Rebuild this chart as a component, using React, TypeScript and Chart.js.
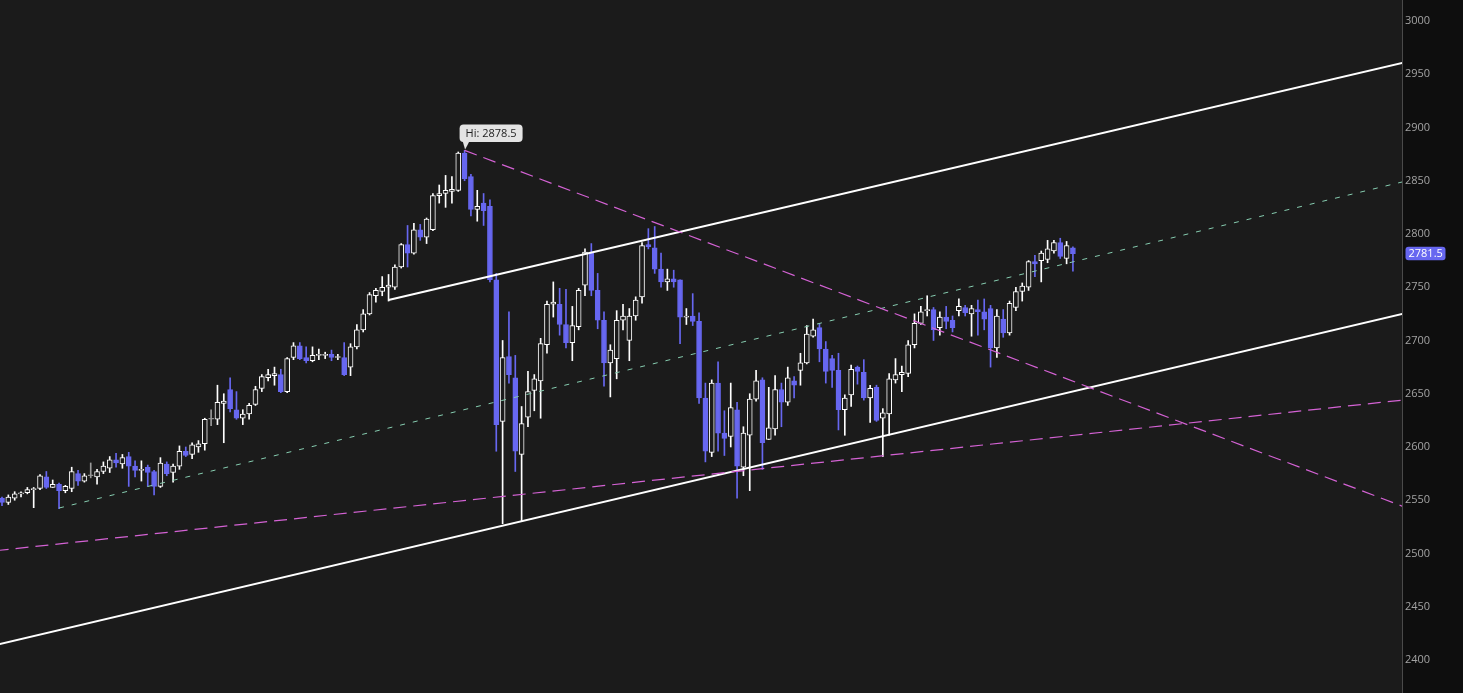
import React, { useEffect, useRef } from 'react';
import { Chart, registerables } from 'chart.js';

Chart.register(...registerables);

// ---- Data ----
const opens = [
  2552, 2548, 2552, 2556, 2557, 2560, 2561, 2572, 2562, 2565,
  2559, 2561, 2575, 2568, 2573, 2572, 2577, 2580, 2588, 2584,
  2591, 2582, 2578, 2581, 2577, 2563, 2584, 2576, 2582, 2596,
  2593, 2600, 2603, 2626, 2626, 2641, 2654, 2635, 2627, 2631,
  2640, 2655, 2665, 2667, 2668, 2652, 2684, 2695, 2684, 2681,
  2686, 2686, 2687, 2684, 2684, 2675, 2694, 2710, 2725, 2742,
  2746, 2750, 2750, 2769, 2790, 2782, 2804, 2797, 2804, 2836,
  2838, 2840, 2841, 2876, 2854, 2823, 2829, 2826, 2757, 2624,
  2685, 2665, 2593, 2628, 2653, 2662, 2696, 2734, 2734, 2715,
  2698, 2713, 2752, 2783, 2747, 2719, 2679, 2683, 2719, 2700,
  2723, 2741, 2790, 2787, 2767, 2755, 2758, 2757, 2722, 2723,
  2718, 2646, 2595, 2660, 2613, 2610, 2635, 2581, 2611, 2645,
  2663, 2607, 2617, 2654, 2642, 2662, 2672, 2679, 2704, 2712,
  2692, 2683, 2672, 2635, 2649, 2675, 2670, 2646, 2656, 2627,
  2631, 2663, 2668, 2669, 2696, 2716, 2728, 2729, 2712, 2722,
  2719, 2728, 2731, 2725, 2729, 2727, 2730, 2693, 2720, 2707,
  2731, 2746, 2750, 2774, 2775, 2776, 2784, 2792, 2777, 2787,
];
const highs = [
  2553, 2555, 2558, 2558, 2562, 2562, 2574, 2577, 2569, 2566,
  2564, 2581, 2578, 2575, 2585, 2579, 2586, 2591, 2594, 2593,
  2595, 2587, 2587, 2583, 2578, 2590, 2586, 2584, 2601, 2600,
  2604, 2606, 2627, 2635, 2658, 2650, 2665, 2652, 2635, 2641,
  2657, 2668, 2673, 2675, 2673, 2684, 2698, 2698, 2694, 2694,
  2692, 2689, 2691, 2687, 2698, 2697, 2715, 2729, 2745, 2749,
  2760, 2762, 2771, 2791, 2808, 2810, 2809, 2815, 2838, 2846,
  2855, 2854, 2877, 2878.5, 2856, 2841, 2838, 2832, 2763, 2700,
  2727, 2686, 2638, 2671, 2668, 2702, 2737, 2755, 2749, 2748,
  2732, 2749, 2786, 2791, 2763, 2727, 2696, 2728, 2734, 2730,
  2741, 2792, 2805, 2807, 2782, 2767, 2766, 2757, 2730, 2744,
  2726, 2660, 2663, 2680, 2634, 2660, 2642, 2619, 2650, 2672,
  2665, 2656, 2667, 2660, 2675, 2666, 2688, 2714, 2720, 2716,
  2699, 2686, 2688, 2649, 2677, 2676, 2682, 2658, 2658, 2636,
  2669, 2683, 2676, 2700, 2725, 2732, 2742, 2731, 2727, 2732,
  2723, 2739, 2733, 2733, 2738, 2739, 2733, 2729, 2729, 2737,
  2750, 2754, 2775, 2780, 2784, 2794, 2794, 2796, 2793, 2788,
];
const lows = [
  2545, 2546, 2550, 2553, 2556, 2543, 2560, 2561, 2562, 2542,
  2557, 2558, 2564, 2567, 2571, 2565, 2575, 2576, 2581, 2580,
  2563, 2572, 2568, 2563, 2555, 2562, 2573, 2567, 2579, 2591,
  2589, 2595, 2597, 2620, 2621, 2604, 2633, 2626, 2621, 2626,
  2639, 2652, 2662, 2658, 2651, 2651, 2682, 2682, 2679, 2680,
  2682, 2683, 2681, 2682, 2667, 2667, 2692, 2708, 2724, 2736,
  2742, 2737, 2748, 2768, 2769, 2781, 2794, 2791, 2803, 2829,
  2825, 2829, 2840, 2850, 2817, 2812, 2808, 2755, 2596, 2528,
  2660, 2577, 2530, 2619, 2634, 2627, 2688, 2722, 2705, 2693,
  2681, 2710, 2742, 2742, 2711, 2657, 2647, 2664, 2710, 2681,
  2719, 2735, 2786, 2763, 2750, 2747, 2750, 2697, 2715, 2714,
  2641, 2586, 2591, 2596, 2592, 2600, 2552, 2573, 2559, 2643,
  2579, 2607, 2611, 2619, 2639, 2646, 2658, 2678, 2703, 2680,
  2660, 2656, 2616, 2611, 2638, 2659, 2644, 2623, 2624, 2591,
  2611, 2660, 2652, 2666, 2693, 2715, 2723, 2700, 2705, 2711,
  2708, 2723, 2723, 2704, 2705, 2710, 2675, 2684, 2703, 2705,
  2728, 2737, 2747, 2760, 2755, 2773, 2782, 2777, 2772, 2765,
];
const closes = [
  2548, 2553, 2556, 2557, 2560, 2561, 2573, 2562, 2565, 2559,
  2563, 2577, 2568, 2573, 2573.5, 2577, 2582, 2588, 2585, 2590,
  2582, 2578, 2579, 2576, 2563, 2585, 2575, 2582, 2596, 2592,
  2602, 2603, 2626, 2626.5, 2642, 2643, 2636, 2627, 2631, 2639,
  2654, 2666, 2668, 2669, 2652, 2683, 2695, 2683, 2681, 2686,
  2687, 2687, 2684, 2685, 2668, 2694, 2710, 2725, 2743, 2747,
  2750, 2752, 2769, 2790, 2782, 2804, 2797, 2814, 2836, 2838,
  2841, 2842, 2876, 2852, 2823, 2826, 2822, 2757, 2621, 2684,
  2668, 2596, 2622, 2652, 2664, 2697, 2734, 2736, 2715, 2698,
  2714, 2747, 2783, 2747, 2719, 2679, 2691, 2719, 2723, 2723,
  2738, 2789, 2788, 2767, 2755, 2758, 2755, 2722, 2723, 2718,
  2646, 2596, 2660, 2613, 2608, 2637, 2582, 2613, 2645, 2662,
  2604, 2618, 2654, 2642, 2665, 2658, 2679, 2706, 2710, 2692,
  2671, 2672, 2635, 2646, 2673, 2671, 2646, 2655, 2625, 2632,
  2664, 2668, 2670, 2696, 2716, 2727, 2729, 2710, 2722, 2718,
  2712, 2732, 2726, 2730, 2727, 2720, 2693, 2723, 2707, 2735,
  2746, 2751, 2774, 2772, 2782, 2786, 2792, 2779, 2789, 2781.5,
];

const yTicks = [2400, 2450, 2500, 2550, 2600, 2650, 2700, 2750, 2800, 2850, 2900, 2950, 3000];

const hiIndex = 73;
const hiValue = 2878.5;

// trendlines: [candle index, price]
const upperChannel = [{ x: 61, y: 2738 }, { x: 221, y: 2960.7 }];
const lowerChannel = [{ x: -1, y: 2414 }, { x: 221, y: 2725 }];
const descTrend = [{ x: 73, y: 2878.5 }, { x: 221, y: 2544.4 }];
const supportTrend = [{ x: -1, y: 2502.6 }, { x: 221, y: 2644 }];
const midTrend = [{ x: 9, y: 2542.7 }, { x: 221, y: 2848.9 }];

// ---- Styles ----
const PLOT_BG = '#1b1b1b';
const AXIS_BG = '#0e0e0e';
const UP = '#ffffff';
const DOWN = '#6767f0';
const DOJI = '#9a9a9a';
const MAGENTA = '#d462d4';
const GREEN = '#86cdb0';

const candleKind = (i: number) =>
  closes[i] > opens[i] + 0.5 ? 'up' : closes[i] < opens[i] - 0.5 ? 'down' : 'doji';

export default function App() {
  const ref = useRef<HTMLCanvasElement | null>(null);

  useEffect(() => {
    document.body.style.margin = '0';
    document.body.style.overflow = 'hidden';
    document.body.style.background = AXIS_BG;
    const canvas = ref.current;
    if (!canvas) return;

    const bodyData = opens.map((o, i) => ({ x: i, y: [o, closes[i]] }));
    const wickData = lows.map((l, i) => ({ x: i, y: [l, highs[i]] }));
    const kinds = opens.map((_, i) => candleKind(i));
    const edge = kinds.map((k) => (k === 'up' ? UP : k === 'down' ? DOWN : DOJI));
    const fill = kinds.map((k) => (k === 'up' ? PLOT_BG : k === 'down' ? DOWN : DOJI));

    const bgPlugin = {
      id: 'bgPlugin',
      beforeDraw(chart: any) {
        const { ctx, chartArea, width, height } = chart;
        ctx.save();
        ctx.fillStyle = AXIS_BG;
        ctx.fillRect(0, 0, width, height);
        ctx.fillStyle = PLOT_BG;
        ctx.fillRect(chartArea.left, chartArea.top, chartArea.right - chartArea.left, chartArea.bottom - chartArea.top);
        ctx.restore();
      },
    };

    const roundRect = (ctx: CanvasRenderingContext2D, x: number, y: number, w: number, h: number, r: number) => {
      ctx.beginPath();
      ctx.moveTo(x + r, y);
      ctx.lineTo(x + w - r, y);
      ctx.arcTo(x + w, y, x + w, y + r, r);
      ctx.lineTo(x + w, y + h - r);
      ctx.arcTo(x + w, y + h, x + w - r, y + h, r);
      ctx.lineTo(x + r, y + h);
      ctx.arcTo(x, y + h, x, y + h - r, r);
      ctx.lineTo(x, y + r);
      ctx.arcTo(x, y, x + r, y, r);
      ctx.closePath();
    };

    const labelPlugin = {
      id: 'labelPlugin',
      afterDraw(chart: any) {
        const { ctx } = chart;
        const xs = chart.scales.x;
        const ys = chart.scales.y;
        ctx.save();
        // Hi label
        const hx = xs.getPixelForValue(hiIndex);
        const hy = ys.getPixelForValue(hiValue);
        const w = 63;
        const h = 17.5;
        const lx = hx - 5;
        const ly = hy - 26;
        ctx.fillStyle = '#e4e4e4';
        roundRect(ctx, lx, ly, w, h, 4);
        ctx.fill();
        ctx.beginPath();
        ctx.moveTo(lx + 3, ly + h - 1);
        ctx.lineTo(lx + 10, ly + h - 1);
        ctx.lineTo(hx + 0.5, hy - 1);
        ctx.closePath();
        ctx.fill();
        ctx.fillStyle = '#1e1e1e';
        ctx.font = '11px "Open Sans", "DejaVu Sans", sans-serif';
        ctx.textAlign = 'center';
        ctx.textBaseline = 'middle';
        ctx.fillText('Hi: ' + hiValue.toFixed(1), lx + w / 2, ly + h / 2 + 0.5);

        // last price tag
        const last = closes[closes.length - 1];
        const py = ys.getPixelForValue(last);
        const tx = chart.chartArea.right + 3.5;
        ctx.fillStyle = DOWN;
        roundRect(ctx, tx, py - 7, 40, 13.5, 3);
        ctx.fill();
        ctx.fillStyle = '#ffffff';
        ctx.textAlign = 'left';
        ctx.fillText(last.toFixed(1), tx + 3, py);
        ctx.restore();
      },
    };

    const lineDs = (data: any[], color: string, width: number, dash: number[]) => ({
      type: 'line' as const,
      data,
      borderColor: color,
      borderWidth: width,
      borderDash: dash,
      pointRadius: 0,
      pointHoverRadius: 0,
      fill: false,
      tension: 0,
      order: 0,
    });

    const chart = new Chart(canvas, {
      type: 'bar',
      data: {
        datasets: [
          {
            type: 'bar',
            data: wickData as any,
            backgroundColor: edge,
            borderWidth: 0,
            barThickness: 1,
            grouped: false,
            order: 3,
          },
          {
            type: 'bar',
            data: bodyData as any,
            backgroundColor: fill,
            borderColor: edge,
            borderWidth: 1,
            borderSkipped: false,
            barThickness: 5,
            minBarLength: 1,
            grouped: false,
            order: 2,
          },
          lineDs(supportTrend, MAGENTA, 1.2, [13, 7]),
          lineDs(descTrend, MAGENTA, 1.2, [13, 7]),
          lineDs(midTrend, GREEN, 1, [5, 8]),
          lineDs(upperChannel, '#ffffff', 2, []),
          lineDs(lowerChannel, '#ffffff', 2, []),
        ] as any,
      },
      options: {
        animation: false,
        responsive: false,
        devicePixelRatio: 1,
        layout: { padding: 0 },
        plugins: {
          legend: { display: false },
          tooltip: { enabled: false },
        },
        events: [],
        scales: {
          x: {
            type: 'linear',
            min: -0.3156,
            max: 220.93,
            display: false,
            offset: false,
            grid: { display: false, offset: false },
          },
          y: {
            type: 'linear',
            position: 'right',
            min: 2369.0,
            max: 3019.7,
            afterBuildTicks: (scale: any) => {
              scale.ticks = yTicks.map((v) => ({ value: v }));
            },
            afterFit: (scale: any) => {
              scale.width = 61;
              scale.paddingTop = 0;
              scale.paddingBottom = 0;
            },
            grid: { display: false, drawTicks: false },
            border: { display: true, color: '#4a4a4a', width: 1 },
            ticks: {
              color: '#a3a3a3',
              padding: 3,
              autoSkip: false,
              font: { family: '"Open Sans", "DejaVu Sans", sans-serif', size: 11 },
              callback: (v: any) => String(v),
            },
          },
        },
      },
      plugins: [bgPlugin, labelPlugin],
    });

    return () => chart.destroy();
  }, []);

  return (
    <div style={{ width: 1463, height: 693, overflow: 'hidden' }}>
      <canvas ref={ref} width={1463} height={693} style={{ display: 'block', width: 1463, height: 693 }} />
    </div>
  );
}
